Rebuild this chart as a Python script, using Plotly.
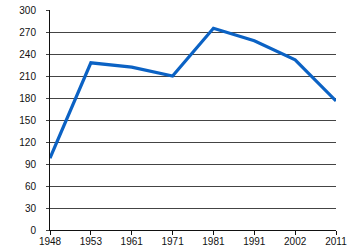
import plotly.graph_objects as go

years = ["1948", "1953", "1961", "1971", "1981", "1991", "2002", "2011"]
values = [98, 228, 222, 210, 275, 258, 232, 176]
y_ticks = [0, 30, 60, 90, 120, 150, 180, 210, 240, 270, 300]

fig = go.Figure()
fig.add_trace(go.Scatter(
    x=years, y=values, mode="lines",
    line=dict(color="#0b62c4", width=3.2),
    cliponaxis=False, hoverinfo="skip",
))

fig.update_layout(
    width=350, height=250,
    margin=dict(l=50, r=14, t=10, b=20),
    paper_bgcolor="white", plot_bgcolor="white",
    showlegend=False,
    font=dict(family="Liberation Sans, Arial, sans-serif", size=10, color="#111"),
)
fig.update_xaxes(
    type="category", range=[0, 7], automargin=False,
    showgrid=False, showline=True, linecolor="#111", linewidth=1,
    ticks="outside", ticklen=4, tickcolor="#111",
    zeroline=False, ticklabelstandoff=-2,
)
fig.update_yaxes(
    range=[0, 300], tickvals=y_ticks, automargin=False,
    showgrid=True, gridcolor="#444", gridwidth=1,
    showline=True, linecolor="#111", linewidth=1,
    ticks="outside", ticklen=3, tickcolor="#444",
    zeroline=False, ticklabelstandoff=8,
)

fig.write_html("out.html")
